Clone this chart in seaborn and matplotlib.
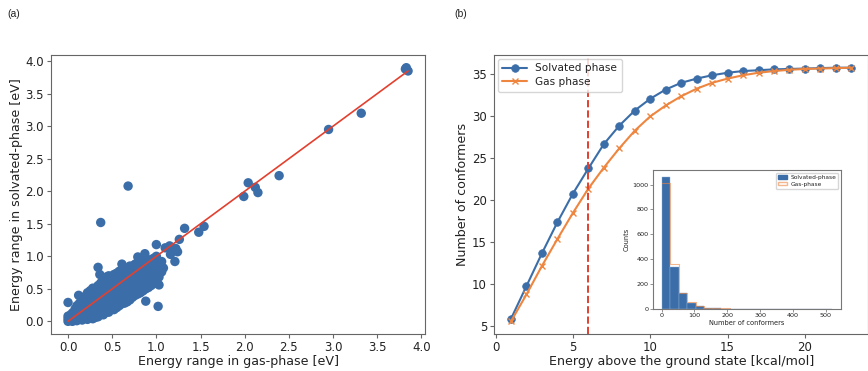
import numpy as np
import matplotlib
matplotlib.use("Agg")
import matplotlib.pyplot as plt
from matplotlib.patches import Patch
import seaborn as sns

# (a) energy range per molecule: gas phase vs solvated phase [eV]
# isolated points
outlier_gas = [3.83, 3.82, 3.85, 3.32, 2.95, 2.39, 2.04, 2.12, 2.15, 1.99,
               0.68, 0.37, 1.32, 1.48, 1.54, 1.26, 1.00, 1.10, 1.15, 1.22,
               1.24, 1.16, 1.21, 1.02, 0.00, 0.12, 0.34, 0.61, 0.88, 0.79,
               0.87, 1.03, 1.08, 0.36, 0.31]
outlier_solv = [3.90, 3.88, 3.85, 3.20, 2.95, 2.24, 2.13, 2.06, 1.98, 1.92,
                2.08, 1.52, 1.43, 1.37, 1.46, 1.26, 1.18, 1.13, 1.16, 1.12,
                1.07, 1.03, 0.92, 0.23, 0.29, 0.40, 0.83, 0.88, 0.31, 0.99,
                1.04, 0.56, 0.82, 0.72, 0.06]
# the dense band near the origin (estimated, one row per column of dots)
cluster_gas = [
    0.00, 0.00, 0.00,
    0.03, 0.03,
    0.05, 0.05, 0.05,
    0.08, 0.08, 0.08,
    0.10, 0.10, 0.10, 0.10,
    0.13, 0.13, 0.13, 0.13,
    0.16, 0.16, 0.16, 0.16, 0.16,
    0.19, 0.19, 0.19, 0.19, 0.19,
    0.22, 0.22, 0.22, 0.22, 0.22, 0.22,
    0.25, 0.25, 0.25, 0.25, 0.25, 0.25,
    0.28, 0.28, 0.28, 0.28, 0.28, 0.28, 0.28,
    0.31, 0.31, 0.31, 0.31, 0.31, 0.31,
    0.34, 0.34, 0.34, 0.34, 0.34, 0.34, 0.34,
    0.37, 0.37, 0.37, 0.37, 0.37, 0.37, 0.37,
    0.40, 0.40, 0.40, 0.40, 0.40, 0.40, 0.40, 0.40,
    0.43, 0.43, 0.43, 0.43, 0.43, 0.43, 0.43, 0.43,
    0.46, 0.46, 0.46, 0.46, 0.46, 0.46, 0.46, 0.46,
    0.49, 0.49, 0.49, 0.49, 0.49, 0.49, 0.49,
    0.52, 0.52, 0.52, 0.52, 0.52, 0.52, 0.52, 0.52,
    0.55, 0.55, 0.55, 0.55, 0.55, 0.55, 0.55, 0.55,
    0.58, 0.58, 0.58, 0.58, 0.58, 0.58, 0.58, 0.58,
    0.61, 0.61, 0.61, 0.61, 0.61, 0.61, 0.61,
    0.64, 0.64, 0.64, 0.64, 0.64, 0.64, 0.64, 0.64,
    0.67, 0.67, 0.67, 0.67, 0.67, 0.67, 0.67,
    0.70, 0.70, 0.70, 0.70, 0.70, 0.70, 0.70, 0.70,
    0.73, 0.73, 0.73, 0.73, 0.73, 0.73, 0.73,
    0.76, 0.76, 0.76, 0.76, 0.76, 0.76, 0.76,
    0.79, 0.79, 0.79, 0.79, 0.79, 0.79, 0.79,
    0.82, 0.82, 0.82, 0.82, 0.82, 0.82, 0.82,
    0.85, 0.85, 0.85, 0.85, 0.85, 0.85, 0.85,
    0.88, 0.88, 0.88, 0.88, 0.88, 0.88, 0.88,
    0.91, 0.91, 0.91, 0.91, 0.91, 0.91,
    0.94, 0.94, 0.94, 0.94, 0.94, 0.94,
    0.97, 0.97, 0.97, 0.97, 0.97, 0.97,
    1.00, 1.00, 1.00, 1.00, 1.00, 1.00,
    1.03, 1.03, 1.03, 1.03,
    1.06, 1.06, 1.06,
]
cluster_solv = [
    0.00, 0.04, 0.08,
    0.02, 0.10,
    0.00, 0.07, 0.13,
    0.03, 0.11, 0.19,
    0.01, 0.08, 0.16, 0.24,
    0.04, 0.12, 0.20, 0.28,
    0.02, 0.10, 0.18, 0.26, 0.33,
    0.06, 0.14, 0.22, 0.30, 0.38,
    0.03, 0.11, 0.19, 0.27, 0.35, 0.44,
    0.07, 0.15, 0.23, 0.31, 0.39, 0.47,
    0.04, 0.12, 0.20, 0.28, 0.36, 0.44, 0.51,
    0.08, 0.16, 0.24, 0.32, 0.40, 0.48,
    0.07, 0.15, 0.23, 0.31, 0.39, 0.47, 0.55,
    0.11, 0.19, 0.27, 0.35, 0.43, 0.51, 0.59,
    0.10, 0.18, 0.26, 0.34, 0.42, 0.50, 0.58, 0.64,
    0.14, 0.22, 0.30, 0.38, 0.46, 0.54, 0.62, 0.68,
    0.14, 0.22, 0.30, 0.38, 0.46, 0.54, 0.62, 0.70,
    0.18, 0.26, 0.34, 0.42, 0.50, 0.58, 0.66,
    0.18, 0.26, 0.34, 0.42, 0.50, 0.58, 0.66, 0.72,
    0.21, 0.29, 0.37, 0.45, 0.53, 0.61, 0.69, 0.74,
    0.24, 0.32, 0.40, 0.48, 0.56, 0.64, 0.72, 0.77,
    0.27, 0.35, 0.43, 0.51, 0.59, 0.67, 0.75,
    0.28, 0.36, 0.44, 0.52, 0.60, 0.68, 0.76, 0.81,
    0.30, 0.38, 0.46, 0.54, 0.62, 0.70, 0.78,
    0.33, 0.41, 0.49, 0.57, 0.65, 0.73, 0.81, 0.85,
    0.37, 0.45, 0.53, 0.61, 0.69, 0.77, 0.85,
    0.40, 0.48, 0.56, 0.64, 0.72, 0.80, 0.88,
    0.42, 0.50, 0.58, 0.66, 0.74, 0.82, 0.90,
    0.44, 0.52, 0.60, 0.68, 0.76, 0.84, 0.92,
    0.47, 0.55, 0.63, 0.71, 0.79, 0.87, 0.93,
    0.50, 0.58, 0.66, 0.74, 0.82, 0.90, 0.96,
    0.52, 0.60, 0.68, 0.76, 0.84, 0.92,
    0.55, 0.63, 0.71, 0.79, 0.87, 0.95,
    0.58, 0.66, 0.74, 0.82, 0.90, 0.97,
    0.62, 0.70, 0.78, 0.86, 0.94, 1.00,
    0.68, 0.76, 0.84, 0.92,
    0.76, 0.84, 0.92,
]
fit_x = [0.0, 3.85]
fit_y = [0.0, 3.85]

# (b) number of conformers below an energy threshold
energy_kcal = list(range(1, 24))
solvated_conf = [5.8, 9.7, 13.6, 17.3, 20.7, 23.7, 26.6, 28.8, 30.6, 32.0,
                 33.1, 33.9, 34.4, 34.8, 35.1, 35.3, 35.4, 35.5, 35.55, 35.6,
                 35.65, 35.7, 35.7]
gas_conf = [5.5, 8.7, 12.1, 15.3, 18.4, 21.3, 23.8, 26.1, 28.2, 29.9,
            31.2, 32.3, 33.2, 33.9, 34.4, 34.8, 35.1, 35.3, 35.45, 35.55,
            35.6, 35.65, 35.7]
cutoff = 6

# inset histogram of conformer counts (bin width 26)
hist_edges = [float(v) for v in np.arange(0, 521, 26)]
solv_counts = [1064, 338, 125, 51, 22, 9, 5, 3, 2, 1,
               1, 1, 0, 0, 1, 0, 1, 0, 0, 1]
gas_counts = [1010, 365, 128, 58, 26, 12, 7, 5, 3, 2,
              1, 1, 1, 1, 1, 1, 1, 0, 0, 0]

blue = "#3b6ea8"
orange = "#ee8640"
red = "#e3402f"
spine = "#666666"

sns.set_style("ticks")
plt.rcParams["font.family"] = ["DejaVu Sans"]
plt.rcParams["text.color"] = "#222222"
plt.rcParams["axes.labelcolor"] = "#222222"
plt.rcParams["xtick.color"] = spine
plt.rcParams["ytick.color"] = spine
plt.rcParams["xtick.labelcolor"] = "#222222"
plt.rcParams["ytick.labelcolor"] = "#222222"
plt.rcParams["axes.edgecolor"] = spine

fig = plt.figure(figsize=(8.68, 3.71), dpi=100)
ax1 = fig.add_axes([0.0588, 0.0997, 0.4309, 0.752])
ax2 = fig.add_axes([0.5691, 0.0997, 0.4313, 0.752])
axin = fig.add_axes([0.7523, 0.1671, 0.2166, 0.3747])

tick_fs = 8.5
label_fs = 9.1

# panel (a)
sns.scatterplot(x=outlier_gas + cluster_gas, y=outlier_solv + cluster_solv,
                ax=ax1, color=blue, s=46, edgecolor="none", linewidth=0)
sns.lineplot(x=fit_x, y=fit_y, ax=ax1, color=red, linewidth=1.2)
ax1.set_xticks(np.arange(0, 4.01, 0.5))
ax1.set_yticks(np.arange(0, 4.01, 0.5))
ax1.set_xlabel("Energy range in gas-phase [eV]", fontsize=label_fs, labelpad=1)
ax1.set_ylabel("Energy range in solvated-phase [eV]", fontsize=label_fs, labelpad=2)
ax1.tick_params(labelsize=tick_fs, length=3, pad=2)

# panel (b)
sns.lineplot(x=energy_kcal, y=solvated_conf, ax=ax2, color=blue, marker="o",
             markersize=5.5, markeredgecolor=blue, markeredgewidth=0.5,
             linewidth=1.5, label="Solvated phase")
sns.lineplot(x=energy_kcal, y=gas_conf, ax=ax2, color=orange, marker="x",
             markersize=5, markeredgecolor=orange, markeredgewidth=1.0,
             linewidth=1.5, label="Gas phase")
ax2.axvline(cutoff, color=red, linestyle="--", linewidth=1.4)
ax2.set_xticks([0, 5, 10, 15, 20])
ax2.set_yticks([5, 10, 15, 20, 25, 30, 35])
ax2.set_xlabel("Energy above the ground state [kcal/mol]", fontsize=label_fs, labelpad=1)
ax2.set_ylabel("Number of conformers", fontsize=label_fs, labelpad=2)
ax2.tick_params(labelsize=tick_fs, length=3, pad=2)
ax2.legend(loc="upper left", fontsize=7.6, frameon=True, borderpad=0.45,
           handlelength=2.3, labelspacing=0.35, borderaxespad=0.35)

# inset
mids = [(a + b) / 2 for a, b in zip(hist_edges[:-1], hist_edges[1:])]
sns.histplot(x=mids, weights=solv_counts, bins=hist_edges, ax=axin, color=blue,
             alpha=1, edgecolor="#8fb0d6", linewidth=0.3)
sns.histplot(x=mids, weights=gas_counts, bins=hist_edges, ax=axin, element="step",
             fill=False, color=orange, alpha=0.6, linewidth=0.8)
axin.set_xticks([0, 100, 200, 300, 400, 500])
axin.set_yticks([0, 200, 400, 600, 800, 1000])
axin.set_xlabel("Number of conformers", fontsize=4.8, labelpad=1)
axin.set_ylabel("Counts", fontsize=4.8, labelpad=2)
axin.tick_params(labelsize=4.6, length=2, pad=1, width=0.5)
for sp in axin.spines.values():
    sp.set_color("#777777")
    sp.set_linewidth(0.8)
axin.legend(handles=[Patch(facecolor=blue, edgecolor=blue, label="Solvated-phase"),
                     Patch(facecolor="none", edgecolor=orange, alpha=0.6, label="Gas-phase")],
            loc="upper right", fontsize=4.2, frameon=True, handlelength=1.6,
            handleheight=0.6, labelspacing=0.3, borderpad=0.35, handletextpad=0.5)

fig.text(0.008, 0.962, "(a)", fontsize=7.5, va="center", family="Liberation Sans")
fig.text(0.523, 0.962, "(b)", fontsize=7.5, va="center", family="Liberation Sans")

fig.savefig("out.png", dpi=100)
